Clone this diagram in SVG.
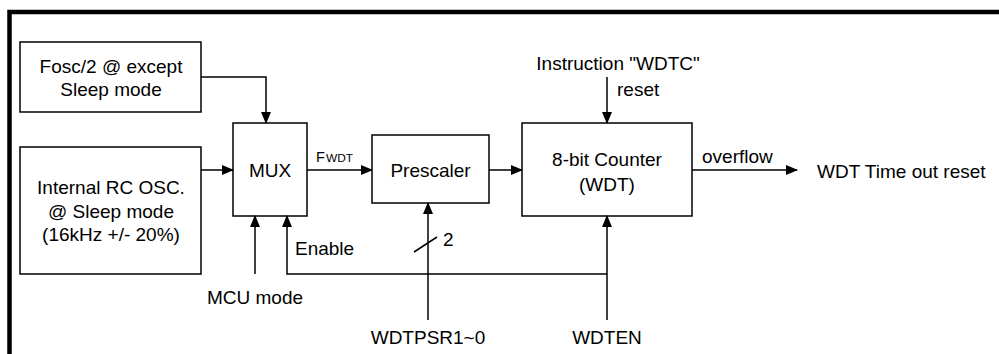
<svg xmlns="http://www.w3.org/2000/svg" width="999" height="354" viewBox="0 0 999 354">
<defs>
<marker id="ah" markerWidth="12" markerHeight="12" refX="11" refY="5" orient="auto" markerUnits="userSpaceOnUse" viewBox="0 0 12 10">
<path d="M0,0 L12,5 L0,10 Z" fill="#000"/>
</marker>
<style>
.box{fill:#fff;stroke:#000;stroke-width:1.5}
.ln{fill:none;stroke:#000;stroke-width:1.5}
.t{font-family:"Liberation Sans",Arial,sans-serif;font-size:19px;fill:#000}
.c{text-anchor:middle}
</style>
</defs>
<rect width="999" height="354" fill="#fff"/>
<path d="M9.5,354 V12 H999" fill="none" stroke="#000" stroke-width="4.5"/>

<g id="fosc">
<rect class="box" x="20" y="42" width="181" height="70"/>
<text class="t c" x="111" y="73">Fosc/2 @ except</text>
<text class="t c" x="111" y="96">Sleep mode</text>
</g>
<g id="rcosc">
<rect class="box" x="20" y="147" width="181" height="127"/>
<text class="t c" x="111" y="194">Internal RC OSC.</text>
<text class="t c" x="111" y="218">@ Sleep mode</text>
<text class="t c" x="111" y="241">(16kHz +/- 20%)</text>
</g>
<g id="mux">
<rect class="box" x="233" y="123" width="74" height="93"/>
<text class="t c" x="270" y="177">MUX</text>
</g>
<g id="prescaler">
<rect class="box" x="372" y="135" width="117" height="68"/>
<text class="t c" x="430.5" y="177">Prescaler</text>
</g>
<g id="counter">
<rect class="box" x="522" y="123" width="170" height="93"/>
<text class="t c" x="607" y="166">8-bit Counter</text>
<text class="t c" x="607" y="191">(WDT)</text>
</g>

<g id="connectors">
<path class="ln" d="M201,77 H266 V123" marker-end="url(#ah)"/>
<path class="ln" d="M201,170 H233" marker-end="url(#ah)"/>
<path class="ln" d="M307,170 H372" marker-end="url(#ah)"/>
<path class="ln" d="M489,170 H522" marker-end="url(#ah)"/>
<path class="ln" d="M692,170 H797" marker-end="url(#ah)"/>
<path class="ln" d="M607,77 V123" marker-end="url(#ah)"/>
<path class="ln" d="M255,274 V216" marker-end="url(#ah)"/>
<path class="ln" d="M607,274 H287 V216" marker-end="url(#ah)"/>
<path class="ln" d="M607,320 V216" marker-end="url(#ah)"/>
<path class="ln" d="M428,320 V203" marker-end="url(#ah)"/>
<path class="ln" d="M414,252 L437,237"/>
</g>

<g id="labels">
<text class="t" x="316" y="162" style="font-size:14.5px">F</text>
<text class="t" x="326" y="162" style="font-size:10px" textLength="27" lengthAdjust="spacingAndGlyphs">WDT</text>
<text class="t c" x="618" y="70">Instruction "WDTC"</text>
<text class="t" x="617" y="96">reset</text>
<text class="t" x="702" y="163">overflow</text>
<text class="t" x="817" y="178">WDT Time out reset</text>
<text class="t" x="295" y="255">Enable</text>
<text class="t" x="443" y="246">2</text>
<text class="t c" x="255" y="304">MCU mode</text>
<text class="t c" x="428" y="344">WDTPSR1~0</text>
<text class="t c" x="607" y="344">WDTEN</text>
</g>
</svg>
